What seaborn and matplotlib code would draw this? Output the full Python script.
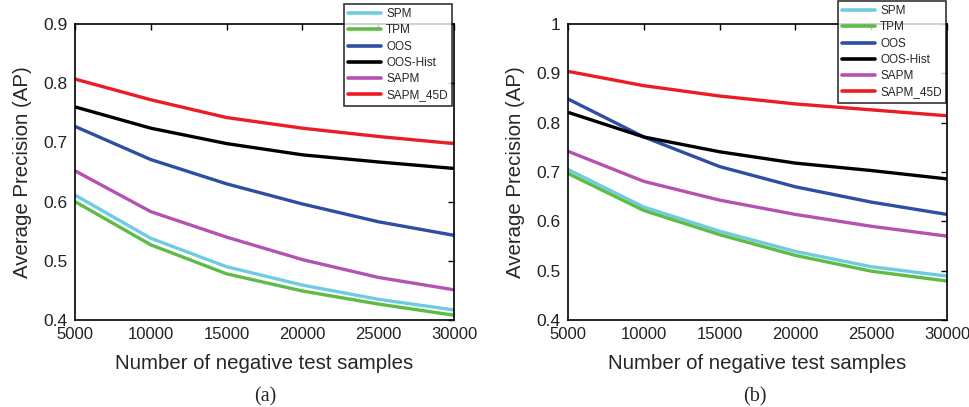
import matplotlib
matplotlib.use("Agg")
import matplotlib.pyplot as plt
import seaborn as sns
import pandas as pd
from matplotlib.ticker import FuncFormatter

sns.set_theme(style="white")
plt.rcParams['font.family'] = ['Liberation Sans', 'DejaVu Sans']

x_samples = [5000, 10000, 15000, 20000, 25000, 30000]
methods = ["SPM", "TPM", "OOS", "OOS-Hist", "SAPM", "SAPM_45D"]
colors = ["#6FCBE0", "#5DBB46", "#2D4EA2", "#000000", "#B552B1", "#EC1C24"]

# panel (a)
a_spm = [0.611, 0.538, 0.490, 0.459, 0.435, 0.417]
a_tpm = [0.600, 0.527, 0.478, 0.449, 0.427, 0.408]
a_oos = [0.727, 0.671, 0.630, 0.596, 0.566, 0.543]
a_ooshist = [0.760, 0.724, 0.698, 0.679, 0.667, 0.656]
a_sapm = [0.652, 0.583, 0.540, 0.502, 0.472, 0.451]
a_sapm45 = [0.807, 0.772, 0.742, 0.724, 0.710, 0.698]

# panel (b)
b_spm = [0.705, 0.629, 0.580, 0.539, 0.508, 0.489]
b_tpm = [0.697, 0.622, 0.573, 0.531, 0.499, 0.479]
b_oos = [0.848, 0.771, 0.711, 0.670, 0.639, 0.614]
b_ooshist = [0.821, 0.771, 0.741, 0.718, 0.703, 0.686]
b_sapm = [0.742, 0.681, 0.643, 0.614, 0.590, 0.570]
b_sapm45 = [0.904, 0.875, 0.854, 0.838, 0.826, 0.814]

def make_df(series):
    rows = []
    for m, vals in zip(methods, series):
        for xv, yv in zip(x_samples, vals):
            rows.append({"x": xv, "AP": yv, "method": m})
    return pd.DataFrame(rows)

df_a = make_df([a_spm, a_tpm, a_oos, a_ooshist, a_sapm, a_sapm45])
df_b = make_df([b_spm, b_tpm, b_oos, b_ooshist, b_sapm, b_sapm45])

fig = plt.figure(figsize=(9.69, 4.07), dpi=100)
ax1 = fig.add_axes([75/969, 1-320/407, 379/969, 296/407])
ax2 = fig.add_axes([568/969, 1-320/407, 379/969, 296/407])

palette = dict(zip(methods, colors))

def style(ax, df, ylim, yticks, legend_anchor, caption, cap_x):
    sns.lineplot(data=df, x="x", y="AP", hue="method", hue_order=methods,
                 palette=palette, linewidth=2.4, ax=ax, legend=True)
    ax.set_xlim(5000, 30000)
    ax.set_ylim(*ylim)
    ax.set_xticks(x_samples)
    ax.set_yticks(yticks)
    ax.yaxis.set_major_formatter(FuncFormatter(lambda v, p: f"{v:g}"))
    ax.tick_params(direction="in", top=True, right=True, length=4, width=1,
                   labelsize=12, colors="black")
    ax.tick_params(axis="x", labelsize=12, pad=5)
    ax.tick_params(axis="y", labelsize=12.5, pad=5.5)
    for s in ax.spines.values():
        s.set_color("black")
        s.set_linewidth(1.2)
    ax.set_xlabel("Number of negative test samples", fontsize=14.7, labelpad=8.5)
    ax.set_ylabel("Average Precision (AP)", fontsize=14.7, labelpad=8)
    for lab in ax.get_xticklabels() + ax.get_yticklabels():
        lab.set_color("#222222")
    leg = ax.legend(loc="upper right", bbox_to_anchor=legend_anchor,
                    bbox_transform=fig.transFigure, fontsize=8.5,
                    frameon=True, fancybox=False, edgecolor="black",
                    handlelength=2.8, handletextpad=0.45, labelspacing=0.36,
                    borderpad=0.35, borderaxespad=0.0)
    leg.get_frame().set_linewidth(1.2)
    for line in leg.get_lines():
        line.set_linewidth(2.6)
    fig.text(cap_x, 1-397/407, caption, ha="center", va="center",
             fontsize=14.5, family=["Liberation Serif", "DejaVu Serif"])

style(ax1, df_a, (0.4, 0.9), [0.4, 0.5, 0.6, 0.7, 0.8, 0.9],
      (452/969, 1-4/407), "(a)", 265/969)
style(ax2, df_b, (0.4, 1.0), [0.4, 0.5, 0.6, 0.7, 0.8, 0.9, 1.0],
      (946/969, 1-1/407), "(b)", 755/969)

fig.savefig("out.png", dpi=100, facecolor="white")
